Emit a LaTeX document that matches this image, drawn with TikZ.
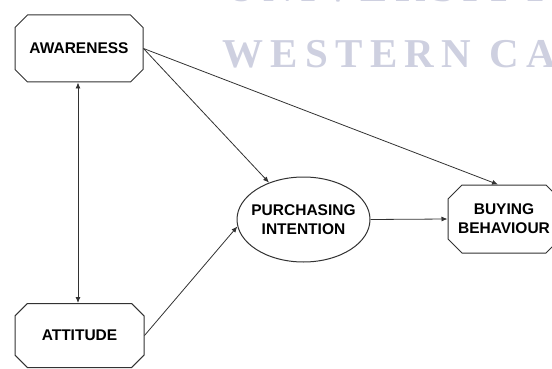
\documentclass[tikz,border=0pt]{standalone}
\usepackage{fontspec}
\setmainfont{Liberation Sans}
\newfontfamily\wmfont[LetterSpace=18]{Liberation Serif}
\usetikzlibrary{shapes.misc, shapes.geometric, arrows.meta}

\definecolor{wmblue}{RGB}{206,208,224}
\definecolor{edge}{RGB}{50,50,50}

\tikzset{
	stage/.style = {chamfered rectangle, chamfered rectangle xsep=7pt, chamfered rectangle ysep=7pt,
		draw=edge, line width=1pt, fill=white, inner sep=0pt, align=center,
		font=\fontsize{15.5}{19}\selectfont\bfseries},
	hub/.style = {ellipse, draw=edge, line width=1pt, fill=white, inner xsep=-6pt, inner ysep=0pt,
		align=center, font=\fontsize{15.5}{19}\selectfont\bfseries},
	link/.style = {draw=edge, line width=0.8pt},
	tip/.style = {-{Latex[length=6pt,width=5pt]}}
}

\begin{document}
\begin{tikzpicture}[x=1pt, y=-1pt]
	\clip (0,0) rectangle (552,369);

	% watermark
	\begin{scope}[wmblue, font=\fontsize{41}{41}\selectfont\wmfont\bfseries]
		\node [anchor=base west, inner sep=0pt] (wmtop) at (226,2) {UNIVERSITY of the};
		\node [anchor=base west, inner sep=0pt] (wmbot) at (222,68) {WESTERN CAPE};
	\end{scope}

	% boxes
	\node [stage, minimum width=128pt, minimum height=67pt] (aw) at (79,48.5) {AWARENESS};
	\node [stage, minimum width=129pt, minimum height=64pt] (at) at (79.5,335.5) {ATTITUDE};
	\node [hub, minimum width=133pt, minimum height=85pt] (pi) at (303.5,219.5) {PURCHASING\\INTENTION};
	\node [stage, minimum width=112pt, minimum height=68pt] (bb) at (504,219) {BUYING\\BEHAVIOUR};

	% arrows
	\begin{scope}[link]
		\draw [{Latex[length=6pt,width=5pt]}-{Latex[length=6pt,width=5pt]}] (aw.south -| 78,0) -- (at.north -| 78,0);
		\draw [tip] (aw.east) -- (pi);
		\draw [tip] (aw.east) -- ([xshift=-6pt]bb.north);
		\draw [tip] (at.east) -- (pi.186);
		\draw [tip] (pi.east) -- (bb.west);
	\end{scope}
\end{tikzpicture}
\end{document}
